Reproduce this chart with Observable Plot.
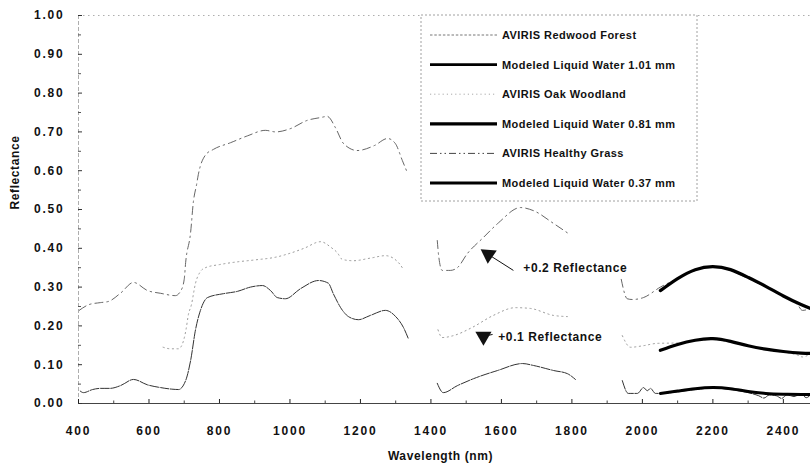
<!DOCTYPE html>
<html>
<head>
<meta charset="utf-8">
<script src="https://cdn.jsdelivr.net/npm/d3@7"></script>
<script src="https://cdn.jsdelivr.net/npm/@observablehq/plot@0.6"></script>
<style>
  html, body { margin: 0; padding: 0; background: #fff; }
  #chart { width: 810px; height: 466px; }
  #chart svg text { letter-spacing: 0.6px; }
  #chart svg [aria-label="x-axis tick label"] text,
  #chart svg [aria-label="y-axis tick label"] text { letter-spacing: 1.8px; }
  #chart svg [aria-label="axis title"] text { letter-spacing: 1.5px; }
</style>
</head>
<body>
<div id="chart"></div>
<script>
// ---- tick values ----
const xMajor = [400, 600, 800, 1000, 1200, 1400, 1600, 1800, 2000, 2200, 2400];
const xMinor = [500, 700, 900, 1100, 1300, 1500, 1700, 1900, 2100, 2300];
const yMajor = [0, 0.1, 0.2, 0.3, 0.4, 0.5, 0.6, 0.7, 0.8, 0.9, 1.0];
const yMinor = [0.05, 0.15, 0.25, 0.35, 0.45, 0.55, 0.65, 0.75, 0.85, 0.95];

// ---- AVIRIS Redwood Forest (bottom curve), segments [wavelength, reflectance] ----
const redwood = [
  [[405,0.032],[414,0.028],[440,0.036],[462,0.039],[490,0.039],[519,0.046],[556,0.062],[596,0.048],[633,0.041],[665,0.037],[684,0.036],[704,0.059],[718,0.11],[732,0.19],[746,0.24],[766,0.273],[811,0.283],[851,0.289],[888,0.30],[922,0.304],[945,0.291],[964,0.273],[987,0.27],[1030,0.296],[1081,0.317],[1109,0.31],[1123,0.283],[1149,0.24],[1166,0.224],[1194,0.216],[1228,0.227],[1271,0.24],[1300,0.224],[1322,0.196],[1336,0.167]],
  [[1418,0.052],[1435,0.028],[1475,0.046],[1521,0.064],[1589,0.085],[1660,0.103],[1691,0.098],[1748,0.085],[1787,0.077],[1810,0.062]],
  [[1943,0.059],[1960,0.026],[1986,0.026],[2003,0.041],[2014,0.033],[2023,0.039],[2037,0.026],[2051,0.026],[2100,0.03],[2150,0.036],[2200,0.04],[2250,0.036],[2300,0.028],[2330,0.02],[2345,0.014],[2360,0.022],[2380,0.02],[2395,0.013],[2410,0.022],[2430,0.018],[2450,0.025],[2465,0.015],[2477,0.022]]
];

// ---- AVIRIS Oak Woodland (+0.1, middle curve) ----
const oak = [
  [[640,0.145],[661,0.141],[684,0.141],[698,0.162],[705,0.19],[712,0.23],[720,0.253],[732,0.31],[746,0.34],[760,0.35],[800,0.358],[850,0.365],[900,0.37],[964,0.378],[996,0.386],[1040,0.40],[1087,0.417],[1117,0.402],[1134,0.389],[1149,0.371],[1180,0.368],[1230,0.375],[1271,0.381],[1311,0.36],[1322,0.345]],
  [[1420,0.19],[1432,0.17],[1464,0.175],[1517,0.196],[1577,0.227],[1640,0.247],[1682,0.245],[1748,0.227],[1787,0.224]],
  [[1943,0.175],[1966,0.145],[2003,0.149],[2042,0.155],[2100,0.156],[2150,0.162],[2200,0.165],[2250,0.158],[2300,0.148],[2350,0.138],[2400,0.132],[2440,0.125],[2454,0.12],[2477,0.128]]
];

// ---- AVIRIS Healthy Grass (+0.2, top curve) ----
const grass = [
  [[402,0.24],[430,0.255],[462,0.26],[485,0.263],[520,0.285],[556,0.312],[596,0.291],[633,0.284],[675,0.278],[690,0.29],[700,0.32],[704,0.363],[718,0.44],[726,0.52],[735,0.564],[740,0.59],[760,0.64],[783,0.655],[831,0.672],[880,0.69],[930,0.704],[960,0.70],[1000,0.708],[1050,0.73],[1087,0.737],[1106,0.74],[1129,0.711],[1152,0.67],[1191,0.652],[1240,0.665],[1277,0.683],[1299,0.67],[1319,0.626],[1333,0.595]],
  [[1418,0.42],[1422,0.38],[1432,0.343],[1455,0.343],[1475,0.35],[1503,0.386],[1549,0.428],[1592,0.466],[1654,0.505],[1691,0.497],[1748,0.464],[1787,0.44]],
  [[1940,0.32],[1957,0.27],[1971,0.268],[2003,0.273],[2051,0.30],[2100,0.322],[2150,0.343],[2200,0.352],[2250,0.343],[2300,0.322],[2350,0.30],[2400,0.276],[2440,0.255],[2454,0.24],[2477,0.245]]
];

// ---- Modeled liquid water curves ----
const modelWavelength = [2051, 2100, 2150, 2200, 2250, 2300, 2350, 2400, 2450, 2477];
const model101 = [0.026, 0.032, 0.038, 0.041, 0.038, 0.031, 0.026, 0.024, 0.023, 0.023];
const model081 = [0.137, 0.152, 0.163, 0.167, 0.160, 0.149, 0.140, 0.134, 0.130, 0.129];
const model037 = [0.291, 0.322, 0.345, 0.353, 0.345, 0.325, 0.302, 0.277, 0.255, 0.245];

// ---- legend & annotations ----
const legendLabels = [
  "AVIRIS Redwood Forest",
  "Modeled Liquid Water 1.01 mm",
  "AVIRIS Oak Woodland",
  "Modeled Liquid Water 0.81 mm",
  "AVIRIS Healthy Grass",
  "Modeled Liquid Water 0.37 mm"
];
const annotationText = ["+0.2 Reflectance", "+0.1 Reflectance"];
const annotationW = [1662, 1591];
const annotationR = [0.348, 0.170];
const arrowTailW = [1634, 1575];
const arrowTailR = [0.343, 0.178];
const arrowHeadW = [1563, 1549];
const arrowHeadR = [0.384, 0.173];
const arrowRotate = [-56, 180];

// ---- styles ----
const sRedwood = {stroke: "#333", strokeWidth: 1, strokeDasharray: "9,1.5"};
const sOak = {stroke: "#9a9a9a", strokeWidth: 1, strokeDasharray: "1.2,3.5"};
const sGrass = {stroke: "#555", strokeWidth: 0.9, strokeDasharray: "8,4,1.5,4"};
const sModel = [{stroke: "#000", strokeWidth: 3}, {stroke: "#000", strokeWidth: 3.2}, {stroke: "#000", strokeWidth: 3.2}];
const legendStyles = [
  {stroke: "#777", width: 1, dash: "2.5,1.8"},
  {stroke: "#000", width: 2.6, dash: null},
  {stroke: "#aaa", width: 1, dash: "1.2,3"},
  {stroke: "#000", width: 3.2, dash: null},
  {stroke: "#444", width: 1, dash: "7,3,1.5,3,1.5,3"},
  {stroke: "#000", width: 3, dash: null}
];

const toRows = segs => segs.flatMap((s, i) => s.map(([w, r]) => ({w, r, seg: i})));
const modelRows = vals => modelWavelength.map((w, i) => ({w, r: vals[i]}));
const annRows = annotationText.map((t, i) => ({
  t, w: annotationW[i], r: annotationR[i],
  tw: arrowTailW[i], tr: arrowTailR[i], hw: arrowHeadW[i], hr: arrowHeadR[i], rot: arrowRotate[i]
}));

function legendMark(index, scales, values, dims) {
  const g = d3.create("svg:g").attr("aria-label", "legend");
  const x0 = 421, y0 = 15, w = 276, h = 186;
  g.append("rect").attr("x", x0).attr("y", y0).attr("width", w).attr("height", h)
    .attr("fill", "white").attr("stroke", "#888").attr("stroke-width", 0.8).attr("stroke-dasharray", "2,2");
  legendLabels.forEach((lab, i) => {
    const y = 35 + i * 29.6;
    const st = legendStyles[i];
    const ln = g.append("line").attr("x1", 430).attr("x2", 497).attr("y1", y).attr("y2", y)
      .attr("stroke", st.stroke).attr("stroke-width", st.width);
    if (st.dash) ln.attr("stroke-dasharray", st.dash);
    g.append("text").attr("x", 502).attr("y", y).attr("dy", "0.36em")
      .attr("text-anchor", "start")
      .attr("font-size", 11).attr("font-weight", "bold").attr("fill", "#111")
      .style("letter-spacing", "0.45px").text(lab);
  });
  return g.node();
}

const chart = Plot.plot({
  width: 810,
  height: 466,
  marginLeft: 78,
  marginRight: 0,
  marginTop: 15,
  marginBottom: 63,
  x: {domain: [400, 2477]},
  y: {domain: [0, 1]},
  style: {fontFamily: "'Liberation Sans', Arial, sans-serif", fontSize: "12px", fontWeight: "bold", color: "#111", background: "white"},
  marks: [
    Plot.ruleY([1], {stroke: "#999", strokeWidth: 0.8, strokeDasharray: "1.5,3.5"}),
    Plot.ruleX([400], {stroke: "#999", strokeWidth: 0.8, strokeDasharray: "4,2"}),
    Plot.line(toRows(grass), {x: "w", y: "r", z: "seg", curve: "monotone-x", ...sGrass}),
    Plot.line(toRows(oak), {x: "w", y: "r", z: "seg", curve: "monotone-x", ...sOak}),
    Plot.line(toRows(redwood), {x: "w", y: "r", z: "seg", curve: "monotone-x", ...sRedwood}),
    Plot.line(modelRows(model037), {x: "w", y: "r", curve: "natural", ...sModel[2]}),
    Plot.line(modelRows(model081), {x: "w", y: "r", curve: "natural", ...sModel[1]}),
    Plot.line(modelRows(model101), {x: "w", y: "r", curve: "natural", ...sModel[0]}),
    Plot.ruleY([0], {stroke: "#444", strokeWidth: 1.2}),
    Plot.axisX({ticks: xMajor, tickSize: -4, tickPadding: 27, tickFormat: d3.format("d"), label: null, stroke: "#222", fontSize: 12}),
    Plot.axisX({ticks: xMinor, tickSize: -2.5, tickFormat: () => "", label: null, stroke: "#444"}),
    Plot.axisY({ticks: yMajor, tickSize: -4, tickPadding: 18, tickFormat: d3.format(".2f"), label: null, stroke: "#333", fontSize: 12}),
    Plot.axisY({ticks: yMinor, tickSize: -3, tickFormat: () => "", label: null, stroke: "#555"}),
    Plot.text(["Wavelength (nm)"], {frameAnchor: "bottom", dx: -4, dy: 56, fontSize: 12, fontWeight: "bold", fill: "#111", ariaLabel: "axis title"}),
    Plot.text(["Reflectance"], {frameAnchor: "left", dx: -63, rotate: -90, fontSize: 12, fontWeight: "bold", fill: "#111", ariaLabel: "axis title"}),
    legendMark,
    Plot.link(annRows, {x1: "tw", y1: "tr", x2: "hw", y2: "hr", stroke: "#111", strokeWidth: 1}),
    Plot.dot(annRows, {x: "hw", y: "hr", symbol: "triangle", r: 6, rotate: "rot", fill: "#111", stroke: null}),
    Plot.text(annRows, {x: "w", y: "r", text: "t", textAnchor: "start", fontSize: 12, fontWeight: "bold", fill: "#111"})
  ]
});
document.getElementById("chart").appendChild(chart);
</script>
</body>
</html>
